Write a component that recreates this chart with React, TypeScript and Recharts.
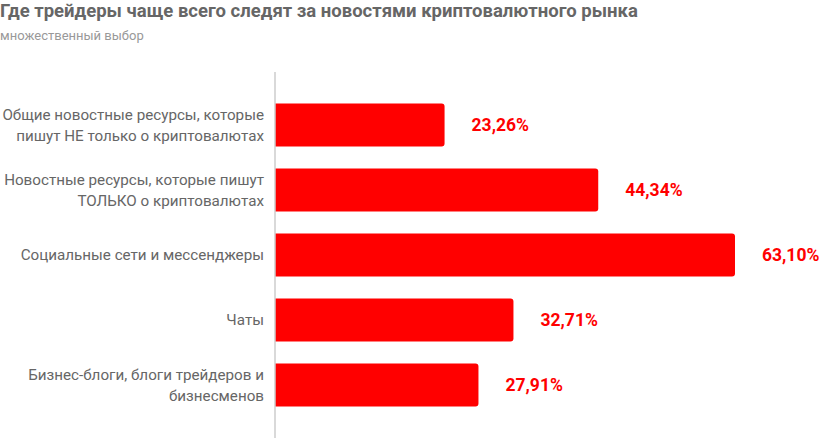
import React from 'react';
import { BarChart, Bar, XAxis, YAxis, LabelList } from 'recharts';

const categories = [
  'Общие новостные ресурсы, которые\nпишут НЕ только о криптовалютах',
  'Новостные ресурсы, которые пишут\nТОЛЬКО о криптовалютах',
  'Социальные сети и мессенджеры',
  'Чаты',
  'Бизнес-блоги, блоги трейдеров и\nбизнесменов',
];
const shares = [23.26, 44.34, 63.1, 32.71, 27.91];

const data = categories.map((name, i) => ({ name, value: shares[i] }));

const FONT = 'Roboto, "Noto Sans", sans-serif';

const CategoryTick = (props: any) => {
  const { x, y, payload } = props;
  const lines = String(payload.value).split('\n');
  const lh = 21;
  const start = -((lines.length - 1) * lh) / 2;
  return (
    <text x={x} y={y} textAnchor="end" fill="#666" fontSize={15.2} fontFamily={FONT}>
      {lines.map((l, i) => (
        <tspan key={i} x={x} dy={i === 0 ? start + 5 : lh}>
          {l}
        </tspan>
      ))}
    </text>
  );
};

const fmt = (v: number) => v.toFixed(2).replace('.', ',') + '%';

export default function App() {
  return (
    <div style={{ position: 'relative', width: 820, height: 438, fontFamily: FONT, background: '#fff' }}>
      <style>{'body{margin:0}'}</style>
      <div style={{ position: 'absolute', left: 0, top: 0, fontSize: 18.5, fontWeight: 700, color: '#666', whiteSpace: 'nowrap' }}>
        Где трейдеры чаще всего следят за новостями криптовалютного рынка
      </div>
      <div style={{ position: 'absolute', left: 0, top: 28, fontSize: 13, color: '#999', whiteSpace: 'nowrap' }}>
        множественный выбор
      </div>
      <BarChart
        width={820}
        height={438}
        data={data}
        layout="vertical"
        margin={{ top: 72, right: 0, bottom: 0, left: 0 }}
        barSize={43}
      >
        <XAxis type="number" domain={[0, 74.76]} hide />
        <YAxis
          type="category"
          dataKey="name"
          width={275}
          axisLine={{ stroke: '#ccc', strokeWidth: 1.5 }}
          tickLine={false}
          tick={<CategoryTick />}
          tickMargin={5}
          padding={{ top: 20.5, bottom: 20.5 }}
          interval={0}
        />
        <Bar dataKey="value" fill="#ff0000" radius={[0, 3, 3, 0]} isAnimationActive={false}>
          <LabelList
            dataKey="value"
            position="right"
            offset={27}
            formatter={(v: any) => fmt(Number(v))}
            style={{ fill: '#ff0000', fontWeight: 700, fontSize: 17.5, fontFamily: FONT }}
          />
        </Bar>
      </BarChart>
    </div>
  );
}
